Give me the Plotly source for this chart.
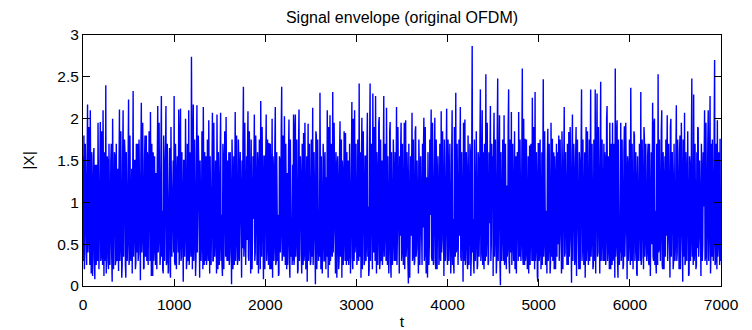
import numpy as np
import plotly.graph_objects as go

# Envelope |X| of the OFDM signal, one value every STEP samples (t = 0, 10, ...)
STEP = 10
envelope = [
    1.55, 1.8, 0.4, 1.1, 0.25, 2.17, 0.6, 1.3, 2.1, 0.15,
    1.2, 0.5, 1.65, 0.08, 0.9, 1.45, 0.3, 1.0, 0.7, 1.96,
    0.35, 1.3, 2.1, 0.12, 0.85, 2.4, 0.45, 1.5, 0.2, 1.1,
    0.6, 1.7, 0.05, 1.25, 0.8, 1.55, 0.3, 0.95, 1.4, 0.18,
    2.11, 0.5, 1.05, 0.25, 2.1, 0.75, 1.6, 0.1, 1.2, 0.55,
    2.23, 0.35, 1.35, 0.8, 0.15, 2.33, 0.6, 1.5, 0.28, 1.0,
    1.7, 0.4, 1.15, 0.07, 2.19, 0.65, 1.4, 0.22, 1.8, 0.9,
    0.3, 1.55, 0.75, 1.25, 2.08, 0.12, 1.0, 1.6, 0.45, 0.85,
    1.35, 0.2, 2.15, 0.6, 1.1, 0.38, 2.27, 0.9, 0.15, 1.45,
    0.7, 2.15, 0.3, 1.2, 0.55, 1.65, 0.1, 1.05, 0.8, 1.5,
    2.27, 0.25, 1.3, 0.6, 0.9, 2.11, 0.5, 2.12, 0.35, 1.15,
    0.05, 1.5, 0.7, 1.0, 0.3, 0.95, 2.1, 0.45, 1.25, 2.74,
    0.2, 2.17, 0.6, 1.1, 0.35, 2.16, 0.8, 1.45, 0.1, 1.0,
    0.55, 1.3, 2.14, 0.25, 0.9, 1.55, 0.4, 1.2, 1.98, 0.15,
    1.05, 0.7, 2.07, 0.3, 1.4, 0.6, 0.95, 2.05, 0.2, 1.25,
    0.5, 2.07, 0.85, 0.12, 1.5, 0.65, 1.1, 2.02, 0.3, 0.9,
    1.6, 0.4, 1.2, 0.02, 1.35, 0.75, 0.25, 2.08, 0.6, 1.0,
    0.35, 1.45, 0.8, 1.15, 0.1, 0.45, 2.38, 0.5, 1.25, 0.7,
    0.55, 2.09, 0.3, 0.95, 0.15, 1.3, 0.6, 0.8, 2.05, 0.4,
    1.1, 0.25, 1.45, 0.7, 0.9, 2.21, 0.35, 1.2, 0.08, 1.55,
    0.6, 2.05, 0.45, 1.0, 1.71, 0.2, 1.3, 0.75, 0.1, 1.4,
    0.5, 2.14, 0.3, 1.15, 0.85, 0.15, 1.5, 0.65, 2.38, 0.4,
    1.2, 2.03, 0.25, 0.9, 1.35, 0.55, 1.99, 0.1, 1.05, 0.7,
    1.45, 2.05, 0.35, 2.05, 0.6, 1.1, 0.2, 2.11, 0.8, 1.3,
    0.15, 0.95, 1.83, 0.4, 1.25, 0.7, 0.05, 1.94, 0.5, 1.1,
    0.3, 1.4, 2.13, 0.6, 0.9, 0.02, 1.8, 0.45, 1.2, 0.75,
    2.31, 0.2, 1.05, 0.55, 1.5, 0.3, 0.85, 1.3, 2.1, 0.1,
    0.95, 2.04, 0.4, 1.2, 2.32, 0.65, 1.0, 0.15, 1.45, 0.5,
    1.25, 0.3, 1.97, 0.8, 0.1, 1.35, 0.6, 1.1, 1.83, 0.25,
    0.9, 1.5, 0.4, 1.15, 0.7, 2.2, 0.2, 1.3, 2.1, 0.55,
    1.0, 0.35, 1.4, 2.42, 0.6, 0.1, 2.01, 0.8, 1.2, 0.3,
    1.55, 0.5, 2.07, 0.95, 0.2, 2.42, 0.7, 1.1, 2.3, 0.4,
    0.85, 2.27, 0.15, 1.3, 0.6, 2.02, 0.3, 1.05, 1.5, 0.45,
    2.27, 0.7, 1.2, 2.13, 0.25, 0.9, 0.5, 1.96, 0.1, 1.0,
    0.55, 1.35, 0.8, 0.3, 2.14, 0.65, 1.1, 0.15, 0.6, 1.95,
    0.4, 1.2, 0.75, 0.2, 1.98, 0.5, 1.3, 0.03, 1.05, 0.7,
    0.6, 2.07, 0.35, 0.9, 0.3, 1.91, 0.45, 1.1, 0.15, 1.4,
    0.6, 1.0, 0.25, 0.7, 2.01, 0.4, 0.95, 1.3, 0.1, 1.2,
    0.5, 0.85, 2.11, 0.3, 1.05, 0.75, 2.01, 0.2, 1.35, 0.6,
    1.15, 0.35, 0.9, 2.09, 0.55, 1.3, 0.12, 1.0, 0.7, 2.12,
    0.25, 1.4, 0.6, 1.1, 0.4, 2.10, 0.8, 0.15, 1.25, 2.31,
    0.45, 1.0, 0.7, 0.6, 2.14, 0.3, 1.2, 0.05, 0.95, 1.99,
    0.5, 1.35, 0.2, 1.1, 0.65, 1.6, 0.35, 2.87, 0.8, 0.15,
    1.3, 0.55, 1.05, 0.25, 1.5, 0.7, 2.35, 0.4, 2.1, 0.9,
    0.2, 1.2, 2.53, 0.6, 1.0, 0.3, 0.75, 2.15, 0.5, 0.95,
    0.12, 2.07, 0.7, 1.25, 0.35, 2.48, 0.8, 2.04, 0.01, 1.1,
    0.6, 1.4, 2.04, 0.3, 0.95, 1.2, 0.45, 2.35, 0.15, 1.05,
    2.08, 0.5, 1.3, 0.75, 0.2, 1.55, 0.65, 1.0, 2.08, 0.35,
    1.2, 0.55, 2.6, 0.25, 0.9, 1.76, 0.4, 1.1, 0.7, 0.15,
    1.68, 0.6, 1.0, 2.25, 0.3, 0.85, 2.32, 0.45, 1.25, 0.05,
    1.7, 0.4, 1.15, 0.7, 0.25, 2.47, 0.55, 1.3, 0.9, 0.15,
    1.88, 0.5, 1.05, 0.3, 0.9, 1.76, 0.65, 0.2, 1.2, 0.8,
    0.35, 0.5, 1.8, 0.6, 1.0, 0.15, 1.45, 0.7, 2.14, 0.4,
    1.1, 0.25, 0.9, 1.84, 0.55, 1.25, 0.04, 2.05, 0.75, 1.35,
    0.3, 1.9, 0.6, 1.0, 0.2, 1.45, 0.8, 2.35, 0.45, 1.15,
    0.7, 0.1, 1.9, 0.5, 1.3, 0.85, 0.3, 2.35, 0.6, 1.05,
    0.25, 1.4, 2.35, 0.7, 2.3, 0.4, 1.1, 0.15, 2.44, 0.55,
    1.25, 0.8, 0.3, 1.5, 0.6, 2.15, 0.45, 1.0, 1.95, 0.2,
    1.15, 1.95, 0.35, 0.9, 2.6, 0.5, 1.98, 0.1, 1.3, 0.7,
    1.95, 0.4, 1.05, 0.25, 1.91, 0.65, 1.2, 0.08, 1.45, 0.55,
    0.9, 2.37, 0.3, 1.1, 0.6, 1.8, 0.45, 1.25, 0.12, 1.0,
    0.7, 1.4, 2.32, 0.35, 0.95, 0.2, 1.75, 0.6, 1.15, 0.4,
    1.7, 0.25, 1.05, 0.75, 0.5, 2.19, 0.3, 2.0, 0.9, 0.15,
    1.3, 2.53, 0.45, 1.1, 0.65, 2.1, 0.2, 1.25, 0.8, 0.35,
    0.6, 2.04, 0.55, 1.0, 0.1, 2.0, 0.7, 1.2, 0.3, 0.9,
    0.5, 2.16, 0.4, 1.05, 0.2, 1.8, 0.6, 1.15, 0.05, 0.85,
    2.07, 0.3, 1.25, 0.75, 1.0, 0.15, 1.45, 0.55, 2.48, 0.9,
    2.29, 0.4, 1.1, 0.25, 0.45, 1.88, 0.6, 1.0, 0.12, 1.4,
    0.5, 0.95, 2.1, 0.35, 1.2, 0.7, 2.1, 0.6, 2.27, 0.4,
    0.35, 1.2, 0.55, 2.7, 0.3, 1.1, 1.98, 0.5, 1.3, 1.76,
    0.9,
]

# Envelope at the in-between samples (t = 5, 15, ...)
envelope_mid = [
    0.3, 0.2, 1.7, 0.35, 1.5, 0.4, 1.9, 0.25, 0.45, 1.6,
    0.12, 1.55, 0.3, 1.45, 0.25, 0.4, 1.95, 0.2, 1.6, 0.3,
    1.85, 0.25, 0.45, 1.6, 0.3, 0.15, 1.55, 0.3, 1.7, 0.25,
    1.5, 0.35, 2.0, 0.2, 1.6, 0.25, 1.7, 0.3, 0.4, 1.4,
    0.3, 1.85, 0.1, 1.55, 0.35, 1.75, 0.25, 1.6, 0.3, 1.5,
    0.25, 1.8, 0.3, 1.4, 1.9, 0.35, 1.5, 0.2, 1.7, 0.4,
    0.3, 1.75, 0.15, 1.55, 0.4, 1.95, 0.2, 1.5, 0.35, 1.8,
    1.6, 0.25, 1.85, 0.3, 0.35, 1.7, 0.12, 0.3, 1.55, 0.25,
    0.3, 1.5, 0.4, 1.95, 0.25, 1.6, 0.35, 0.2, 1.8, 0.3,
    1.55, 0.25, 1.7, 0.15, 1.6, 0.2, 1.9, 0.35, 1.5, 0.4,
    0.3, 1.7, 0.2, 1.55, 0.4, 0.25, 1.85, 0.3, 1.6, 0.5,
    1.5, 0.35, 2.0, 0.2, 1.7, 0.3, 0.25, 1.6, 0.35, 0.4,
    1.6, 0.3, 1.75, 0.12, 1.55, 0.4, 1.8, 0.2, 1.5, 0.3,
    1.85, 0.2, 0.35, 1.6, 0.3, 0.25, 1.75, 0.3, 0.4, 1.55,
    0.25, 1.7, 0.3, 1.95, 0.35, 1.5, 0.15, 0.4, 1.6, 0.25,
    1.55, 0.3, 0.25, 1.7, 0.2, 1.85, 0.35, 0.4, 1.5, 0.3,
    0.25, 1.6, 0.3, 1.75, 0.2, 1.55, 1.9, 0.3, 1.8, 0.25,
    1.75, 0.3, 1.6, 0.1, 1.5, 1.7, 0.35, 1.95, 0.25, 1.55,
    1.6, 0.35, 1.85, 0.25, 1.75, 0.2, 1.55, 1.5, 0.3, 1.8,
    0.3, 1.6, 0.15, 1.75, 0.2, 0.4, 1.9, 0.3, 1.55, 0.2,
    1.5, 0.3, 1.75, 0.25, 0.35, 1.7, 0.2, 2.0, 1.55, 0.3,
    1.7, 0.25, 1.6, 0.3, 0.12, 1.55, 0.4, 1.85, 0.3, 1.8,
    0.35, 0.3, 1.7, 0.2, 0.25, 1.6, 0.3, 1.75, 0.35, 0.25,
    0.3, 0.25, 1.9, 0.35, 1.75, 0.15, 1.7, 0.3, 1.55, 0.4,
    1.7, 0.25, 0.3, 1.95, 0.2, 1.55, 1.6, 0.3, 1.7, 0.25,
    1.75, 0.35, 0.25, 1.6, 0.3, 1.85, 0.2, 1.75, 0.3, 0.35,
    0.4, 1.55, 0.15, 1.7, 0.3, 1.6, 0.2, 0.35, 0.3, 1.9,
    0.25, 0.3, 1.7, 0.35, 0.4, 1.95, 0.25, 1.6, 0.1, 1.55,
    0.2, 1.6, 0.35, 1.75, 1.5, 0.25, 1.85, 0.3, 0.4, 1.6,
    0.3, 0.25, 1.7, 0.15, 1.55, 0.35, 2.0, 0.3, 0.4, 1.7,
    0.25, 1.75, 0.3, 0.35, 1.6, 1.5, 0.2, 1.85, 0.25, 1.55,
    0.3, 1.6, 0.35, 0.12, 1.75, 0.3, 1.7, 0.2, 0.4, 1.9,
    0.3, 0.35, 1.6, 0.25, 1.95, 0.2, 1.75, 0.3, 0.25, 1.5,
    0.35, 1.7, 0.3, 0.4, 1.55, 0.15, 1.85, 0.3, 1.6, 0.25,
    1.75, 0.3, 1.6, 1.7, 0.25, 1.9, 0.2, 1.55, 1.6, 0.3,
    1.7, 0.25, 1.95, 1.5, 0.35, 1.6, 0.3, 1.7, 0.1, 1.55,
    1.6, 0.3, 1.75, 0.25, 1.85, 0.35, 1.5, 0.2, 1.75, 0.25,
    1.55, 0.3, 1.7, 1.6, 0.3, 1.9, 0.15, 0.35, 1.6, 0.25,
    1.75, 1.5, 0.35, 1.95, 0.25, 1.6, 0.3, 1.75, 0.2, 1.55,
    0.25, 1.7, 0.3, 0.4, 1.85, 0.2, 1.75, 0.3, 1.55, 0.35,
    1.75, 0.3, 1.7, 0.15, 1.55, 0.25, 0.3, 1.9, 0.35, 0.4,
    1.7, 0.25, 1.75, 1.5, 0.35, 1.6, 0.2, 1.95, 0.3, 0.25,
    1.6, 0.3, 1.8, 0.25, 1.7, 0.12, 1.55, 0.4, 0.3, 1.75,
    0.3, 1.85, 0.2, 1.6, 0.35, 1.75, 0.3, 1.55, 0.25, 1.6,
    1.7, 0.3, 0.35, 1.95, 0.25, 1.6, 1.5, 0.3, 1.7, 1.55,
    1.6, 0.35, 1.75, 0.15, 1.85, 0.3, 1.55, 0.25, 1.6, 0.3,
    1.75, 0.3, 0.25, 1.7, 0.2, 0.35, 1.9, 0.3, 1.75, 0.4,
    0.25, 1.7, 0.3, 1.85, 1.55, 0.15, 1.6, 0.3, 0.35, 1.75,
    0.3, 1.6, 0.35, 2.0, 0.25, 0.3, 1.75, 0.2, 1.55, 1.6,
    0.25, 1.7, 0.3, 0.35, 1.9, 0.2, 0.3, 1.6, 0.12, 1.7,
    0.3, 1.75, 0.2, 1.6, 1.55, 0.35, 1.85, 0.25, 0.3, 1.5,
    0.3, 1.7, 0.15, 1.95, 0.35, 0.3, 1.6, 1.55, 0.2, 1.7,
    1.6, 1.5, 0.3, 1.75, 0.25, 1.85, 0.2, 1.7, 0.35, 1.6,
    0.3, 1.7, 0.25, 0.35, 1.9, 0.2, 1.6, 0.3, 1.7, 0.25,
    1.55, 0.12, 1.75, 0.3, 1.6, 0.2, 1.95, 0.3, 1.75, 0.25,
    1.6, 1.55, 0.3, 1.85, 0.25, 1.75, 1.5, 0.35, 1.7, 0.2,
    1.75, 0.3, 0.15, 1.6, 0.35, 1.9, 0.2, 1.55, 0.3, 1.75,
    0.3, 1.7, 1.6, 0.25, 2.0, 0.3, 1.55, 0.2, 0.35, 1.7,
    0.25, 0.3, 1.7, 0.1, 0.35, 1.85, 0.3, 1.75, 0.25, 0.4,
    0.3, 1.75, 0.2, 1.6, 0.35, 1.95, 0.25, 1.55, 0.3, 1.75,
    0.25, 0.35, 1.7, 0.2, 1.85, 0.3, 1.6, 0.15, 1.55, 0.3,
    1.7, 0.3, 0.25, 1.75, 0.2, 1.9, 0.35, 1.7, 0.3, 1.55,
    0.3, 1.7, 0.12, 1.6, 1.75, 0.35, 1.95, 0.25, 0.3, 1.7,
    0.25, 0.4, 1.75, 0.3, 1.85, 0.25, 1.6, 0.2, 1.55, 1.75,
    1.6, 0.3, 1.7, 0.15, 1.9, 0.35, 1.6, 0.2, 1.7, 0.3,
    1.55, 0.3, 1.75, 0.25, 1.6, 0.2, 1.95, 0.3, 1.75, 0.35,
    0.25, 1.6, 0.3, 1.85, 0.12, 1.55, 0.3, 1.7, 0.35, 0.25,
    0.3, 1.7, 0.2, 1.6, 1.9, 0.35, 1.5, 0.25, 1.7, 0.3,
    1.6, 1.5, 0.3, 1.95, 0.25, 1.7, 0.3, 1.6, 0.15, 1.7,
    1.75, 0.3, 1.85, 0.25, 1.7, 0.2, 0.35, 1.6, 0.25, 0.3,
]

t_main = np.arange(len(envelope)) * STEP
t_mid = np.arange(len(envelope_mid)) * STEP + STEP // 2

# put both sample sets in time order
t_all = np.concatenate([t_main, t_mid])
x_all = np.concatenate([np.asarray(envelope), np.asarray(envelope_mid)])
order = np.argsort(t_all, kind="stable")
t = t_all[order]
x_abs = x_all[order]

x_ticks = [0, 1000, 2000, 3000, 4000, 5000, 6000, 7000]
y_ticks = [0, 0.5, 1, 1.5, 2, 2.5, 3]
title_text = "Signal envelope (original OFDM)"
x_label = "t"
y_label = "|X|"

FONT = "Arial, Liberation Sans, sans-serif"

fig = go.Figure(
    go.Scatter(
        x=t,
        y=x_abs,
        mode="lines",
        line=dict(color="#0000ff", width=1.4),
        hoverinfo="skip",
    )
)

axis_common = dict(
    ticks="inside",
    ticklen=7,
    tickwidth=1,
    tickcolor="black",
    showline=True,
    linecolor="black",
    linewidth=1,
    mirror="ticks",
    showgrid=False,
    zeroline=False,
    automargin=False,
    tickfont=dict(family=FONT, size=15.5, color="black"),
)

fig.update_layout(
    width=752,
    height=330,
    margin=dict(l=83, r=31, t=35, b=44, autoexpand=False),
    paper_bgcolor="white",
    plot_bgcolor="white",
    showlegend=False,
    font=dict(family=FONT, size=15.5, color="black"),
    title=dict(
        text=title_text,
        x=0.5,
        xref="paper",
        xanchor="center",
        y=1 - 17 / 330,
        yref="container",
        yanchor="middle",
        font=dict(family=FONT, size=16, color="black"),
    ),
    xaxis=dict(
        range=[0, 7000],
        tickvals=x_ticks,
        ticktext=[str(v) for v in x_ticks],
        ticklabelstandoff=4,
        title=dict(text=x_label, standoff=6, font=dict(family=FONT, size=15.5)),
        **axis_common,
    ),
    yaxis=dict(
        range=[0, 3],
        tickvals=y_ticks,
        ticktext=[f"{v:g}" for v in y_ticks],
        title=dict(text=y_label, standoff=18, font=dict(family=FONT, size=15.5)),
        **axis_common,
    ),
)

fig.write_html("out.html")
